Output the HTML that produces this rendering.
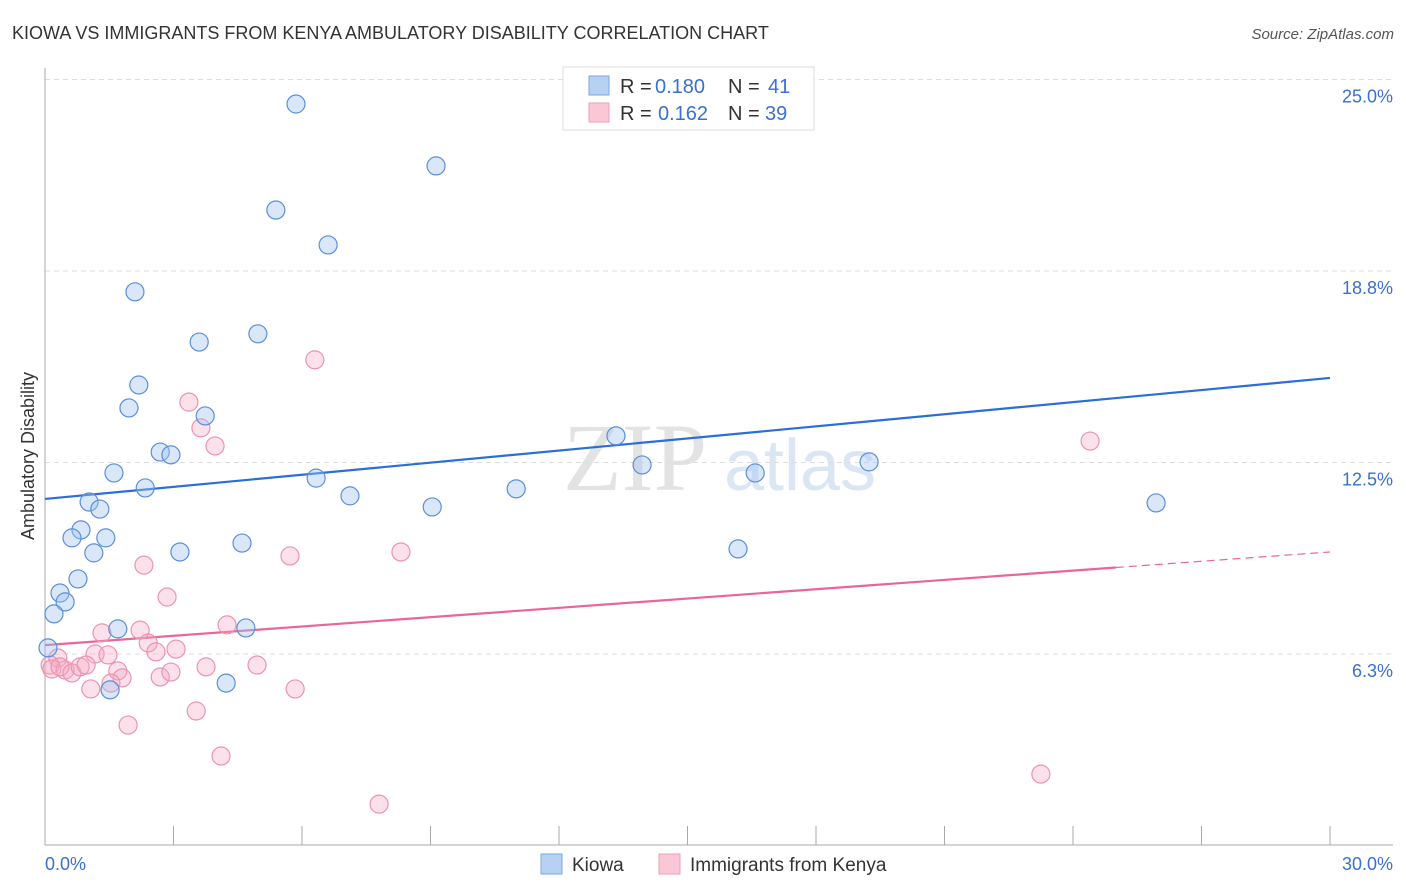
<!DOCTYPE html>
<html><head><meta charset="utf-8"><style>
body{margin:0;background:#fff;font-family:"Liberation Sans",sans-serif;}
</style></head><body>
<svg id="chart" width="1406" height="892" xmlns="http://www.w3.org/2000/svg" style="display:block">
<text x="12" y="39" font-size="18" fill="#333">KIOWA VS IMMIGRANTS FROM KENYA AMBULATORY DISABILITY CORRELATION CHART</text>
<text x="1394" y="39" font-size="15" fill="#555" text-anchor="end" font-style="italic">Source: ZipAtlas.com</text>
<text transform="translate(34,456) rotate(-90)" font-size="18" fill="#333" text-anchor="middle">Ambulatory Disability</text>
<g>
<text x="635" y="490" font-size="96" fill="#e3e3e3" font-family="Liberation Serif,serif" text-anchor="middle">ZIP</text>
<text x="800" y="490" font-size="72" fill="#dbe6f4" text-anchor="middle">atlas</text>
</g>
<g id="grid"></g>
<g id="axes"></g>
<g id="trend"></g>
<g id="points"></g>
<g>
<rect x="563" y="67" width="251" height="63" fill="#fff" stroke="#ddd"/>
<rect x="589" y="76" width="20" height="19" fill="#b7d1f3" stroke="#7aa6e2"/>
<rect x="589" y="103" width="20" height="19" fill="#f9c7d6" stroke="#ee9fb8"/>
<text x="620" y="93" font-size="20" fill="#333">R =</text>
<text x="655" y="93" font-size="20" fill="#3a70d0">0.180</text>
<text x="728" y="93" font-size="20" fill="#333">N =</text>
<text x="768" y="93" font-size="20" fill="#3a70d0">41</text>
<text x="620" y="120" font-size="20" fill="#333">R =</text>
<text x="658" y="120" font-size="20" fill="#3a70d0">0.162</text>
<text x="728" y="120" font-size="20" fill="#333">N =</text>
<text x="765" y="120" font-size="20" fill="#3a70d0">39</text>
</g>
<g>
<rect x="541" y="854" width="21" height="20" fill="#b7d1f3" stroke="#7aa6e2"/>
<text x="572" y="871" font-size="19" fill="#333">Kiowa</text>
<rect x="659" y="854" width="21" height="20" fill="#f9c7d6" stroke="#ee9fb8"/>
<text x="690" y="871" font-size="19" fill="#333">Immigrants from Kenya</text>
</g>
</svg>
<script>
const yTicks=[25,18.75,12.5,6.25];
const yTickLabels=["25.0%","18.8%","12.5%","6.3%"];
const xTickLabels=["0.0%","30.0%"];
const kiowaX=[5.86,9.13,5.39,6.61,2.10,4.97,3.60,2.19,1.96,3.74,13.33,2.69,2.94,13.94,19.24,1.61,16.58,6.33,2.34,1.03,7.12,11.00,25.94,1.28,9.04,0.84,0.63,1.42,4.60,3.15,1.14,16.18,0.77,0.35,0.47,0.21,1.70,4.69,0.07,4.23,1.52];
const kiowaY=[24.20,22.18,20.74,19.60,18.07,16.70,16.43,15.03,14.28,14.02,13.37,12.84,12.75,12.42,12.52,12.16,12.16,11.99,11.67,11.21,11.41,11.64,11.18,10.98,11.05,10.30,10.04,10.04,9.87,9.58,9.55,9.68,8.70,8.24,7.95,7.56,7.07,7.10,6.45,5.30,5.08];
const kenyaX=[6.30,3.36,3.64,3.97,24.40,2.31,5.72,8.31,2.85,4.25,1.33,2.22,2.41,2.59,3.06,1.17,1.47,0.30,0.12,0.16,0.47,0.35,0.63,0.82,0.96,1.70,1.80,1.54,2.69,2.94,3.76,4.95,1.07,5.84,3.53,1.94,4.11,23.25,7.80];
const kenyaY=[15.85,14.47,13.63,13.04,13.20,9.15,9.45,9.58,8.11,7.20,6.94,7.03,6.61,6.32,6.41,6.25,6.22,6.12,5.89,5.76,5.73,5.83,5.63,5.83,5.89,5.70,5.47,5.30,5.50,5.66,5.83,5.89,5.11,5.11,4.39,3.93,2.92,2.33,1.35];
const kiowaTrend=[11.31,15.26];
const kenyaTrend=[6.54,9.58];
const kenyaSolidEnd=25;
const NS="http://www.w3.org/2000/svg";
const X=v=>45+v/30*1285;
const Y=v=>845.5-v/6.25*191.5;
function mk(tag,attrs,parent){const e=document.createElementNS(NS,tag);for(const k in attrs)e.setAttribute(k,attrs[k]);parent.appendChild(e);return e;}
const grid=document.getElementById('grid'),axes=document.getElementById('axes'),trend=document.getElementById('trend'),pts=document.getElementById('points');
yTicks.forEach((t,i)=>{
 const l=mk('line',{x1:45,x2:1393,y1:Y(t),y2:Y(t),stroke:'#ddd','stroke-dasharray':'5,4'},grid);
 
 
 const tx=mk('text',{x:1393,y:Y(t)+23,'font-size':18,fill:'#3a70d0','text-anchor':'end'},grid);
 tx.textContent=yTickLabels[i];
 
 
});
const ya=mk('line',{x1:45,x2:45,y1:68,y2:845,stroke:'#aaa'},axes);


const xa=mk('line',{x1:45,x2:1393,y1:845,y2:845,stroke:'#aaa'},axes);


for(let v=0;v<=30;v+=3){
 const t=mk('line',{x1:X(v),x2:X(v),y1:826,y2:845,stroke:'#aaa'},axes);
 
 
}
[[0,'start',45],[30,'end',1393]].forEach((d,i)=>{
 const tx=mk('text',{x:d[2],y:870,'font-size':18,fill:'#3a70d0','text-anchor':d[1]},axes);
 tx.textContent=xTickLabels[i];
 
 
});
function pl(arr,x){return arr[0]+(arr[1]-arr[0])*x/30;}
const bt=mk('line',{x1:X(0),y1:Y(pl(kiowaTrend,0)),x2:X(30),y2:Y(pl(kiowaTrend,30)),stroke:'#2a6fd6','stroke-width':2.2},trend);


const pt=mk('line',{x1:X(0),y1:Y(pl(kenyaTrend,0)),x2:X(kenyaSolidEnd),y2:Y(pl(kenyaTrend,kenyaSolidEnd)),stroke:'#e8669a','stroke-width':2.2},trend);


const pd=mk('line',{x1:X(kenyaSolidEnd),y1:Y(pl(kenyaTrend,kenyaSolidEnd)),x2:X(30),y2:Y(pl(kenyaTrend,30)),stroke:'#e8669a','stroke-width':1.2,'stroke-dasharray':'8,5'},trend);


kenyaX.forEach((x,i)=>{
 const c=mk('circle',{cx:X(x),cy:Y(kenyaY[i]),r:9,fill:'rgba(246,170,195,0.35)',stroke:'#ec93b1','stroke-width':1.2},pts);
 
 
});
kiowaX.forEach((x,i)=>{
 const c=mk('circle',{cx:X(x),cy:Y(kiowaY[i]),r:9,fill:'rgba(160,195,240,0.4)',stroke:'#5b8fd9','stroke-width':1.2},pts);
 
 
});
</script>
</body></html>
